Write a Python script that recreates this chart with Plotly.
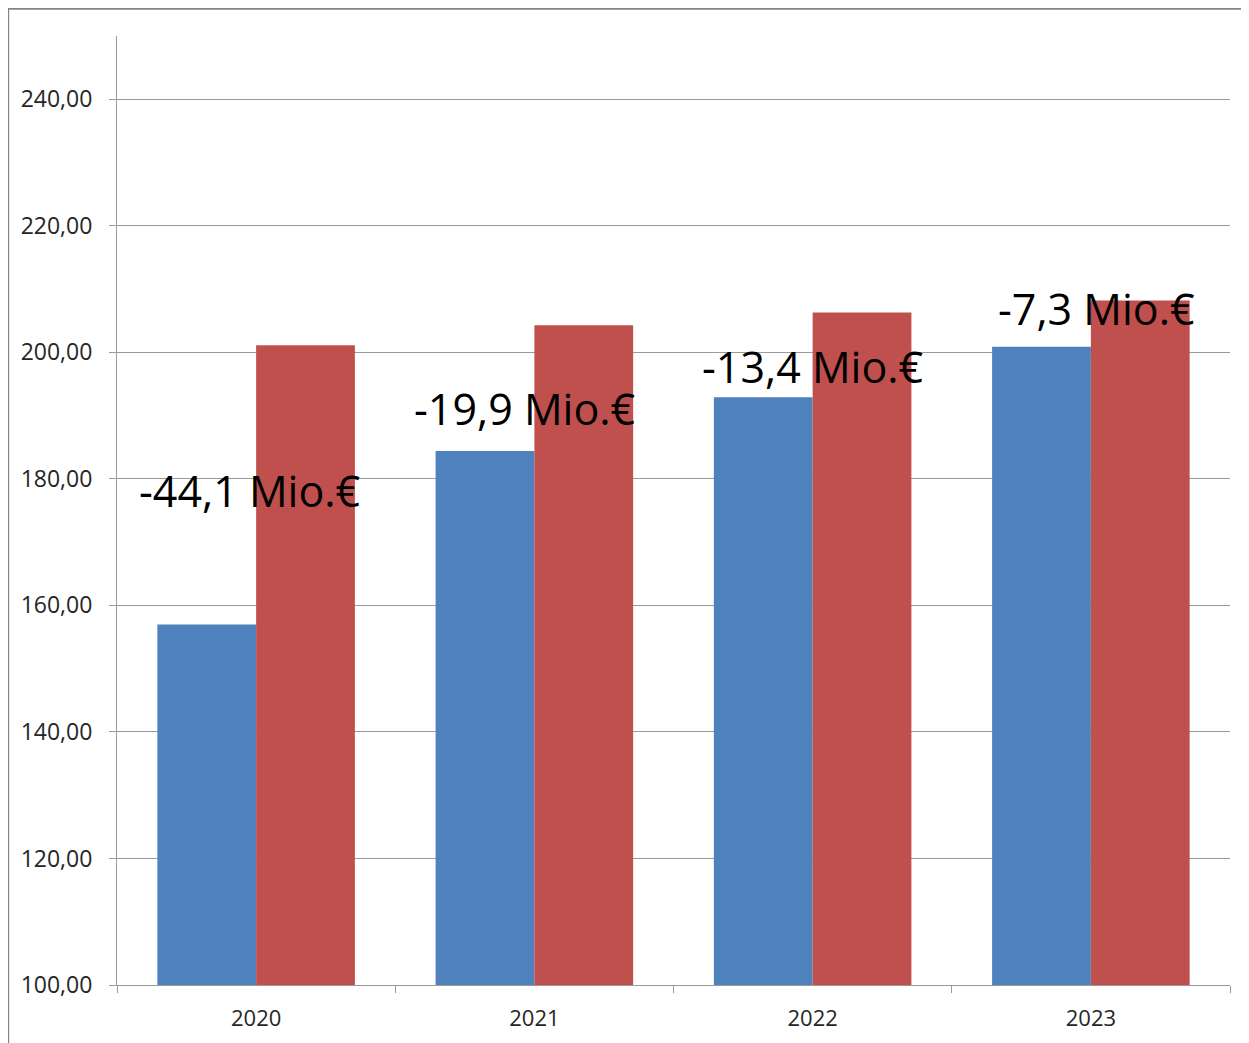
import plotly.graph_objects as go

# values (Mio. €)
years = ["2020", "2021", "2022", "2023"]
series_a = [157.0, 184.4, 192.9, 200.9]   # blue
series_b = [201.1, 204.3, 206.3, 208.2]   # red
labels = ["-44,1 Mio.€", "-19,9 Mio.€", "-13,4 Mio.€", "-7,3 Mio.€"]
label_y = [178.2, 191.2, 197.8, 207.0]
y_ticks = [100, 120, 140, 160, 180, 200, 220, 240]
y_tick_text = ["100,00", "120,00", "140,00", "160,00", "180,00", "200,00", "220,00", "240,00"]

BLUE = "#4F81BD"
RED = "#C0504D"
GRID = "#9a9a9a"
FONT = "Open Sans"

fig = go.Figure()
fig.add_trace(go.Bar(x=years, y=series_a, marker=dict(color=BLUE, line=dict(width=0))))
fig.add_trace(go.Bar(x=years, y=series_b, marker=dict(color=RED, line=dict(width=0))))

# labels sit on the category index (numeric strings would be read as positions)
x_shifts = [-7, -10, 0, 6]
for i, (txt, ly, dx) in enumerate(zip(labels, label_y, x_shifts)):
    fig.add_annotation(x=i, y=ly, text=txt, showarrow=False, xshift=dx,
                       font=dict(family=FONT, size=43, color="black"))

# outer frame (top and left edges visible in the source)
fig.add_shape(type="line", xref="paper", yref="paper", x0=-0.098, x1=1.2, y0=1.029, y1=1.029,
              line=dict(color="#858585", width=2.5))
fig.add_shape(type="line", xref="paper", yref="paper", x0=-0.098, x1=-0.098, y0=-0.1, y1=1.029,
              line=dict(color="#858585", width=2.5))

# the page adds an 8px body margin, so the figure is a bit smaller
fig.update_layout(
    width=1241, height=1035,
    margin=dict(l=109, r=19, t=28, b=58),
    paper_bgcolor="white", plot_bgcolor="white",
    barmode="group", bargap=0.29, bargroupgap=0,
    showlegend=False,
    font=dict(family=FONT, size=22, color="#262626"),
)
fig.update_yaxes(range=[100, 250], tickvals=y_ticks, ticktext=y_tick_text,
                 showgrid=True, gridcolor=GRID, gridwidth=1,
                 showline=True, linecolor=GRID, linewidth=1,
                 ticks="outside", ticklen=7, tickcolor=GRID, zeroline=False,
                 ticklabelstandoff=12,
                 tickfont=dict(family=FONT, size=23, color="#262626"))
fig.update_xaxes(type="category", range=[-0.5, 3.5], showline=True, linecolor=GRID, linewidth=1,
                 showgrid=False, ticks="outside", ticklen=7, tickcolor=GRID,
                 tickson="boundaries", tickangle=0, ticklabelstandoff=14,
                 tickfont=dict(family=FONT, size=22, color="#262626"))

fig.write_html("out.html")
